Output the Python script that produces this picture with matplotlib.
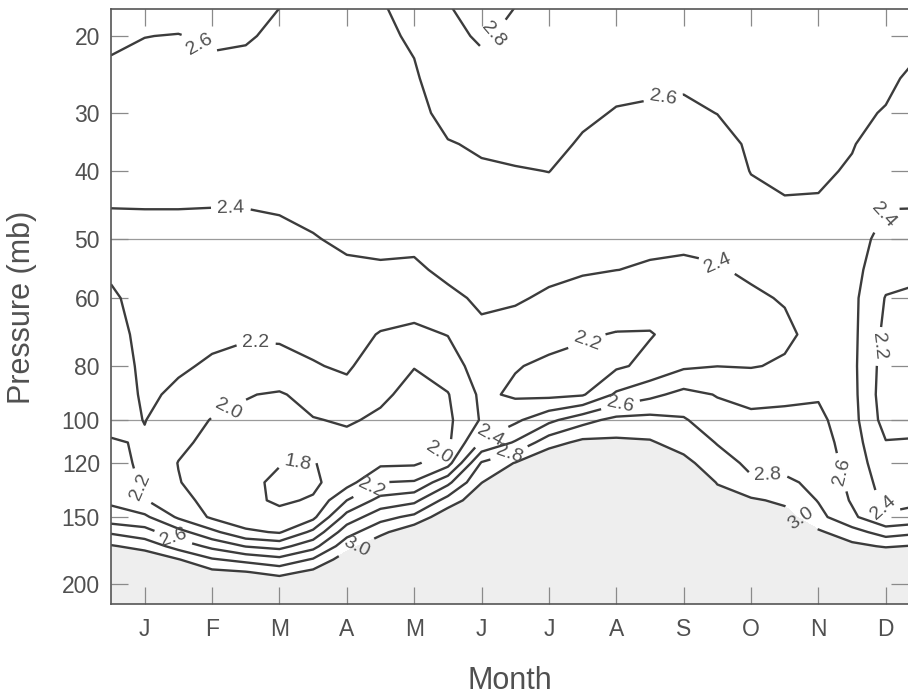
import numpy as np
import matplotlib
matplotlib.use("Agg")
import matplotlib.pyplot as plt

# grid the field was read on: month position (0 = 1 Jan) and pressure (mb)
months = [0.0, 0.5, 1.0, 1.5, 2.0, 2.5, 3.0, 3.5, 4.0, 4.5, 5.0, 5.5, 6.0,
          6.5, 7.0, 7.5, 8.0, 8.5, 9.0, 9.5, 10.0, 10.5, 11.0, 11.5, 12.0]
pressure = [17, 20, 25, 30, 35, 40, 45, 50, 55, 60, 70, 80, 90, 100, 110,
            120, 130, 140, 150, 160, 170, 180, 190, 200, 220]

# mixing ratio, one list per month position, from 17 mb down to 220 mb
ratio_by_month = [
    [2.68, 2.63, 2.56, 2.51, 2.47, 2.44, 2.403, 2.33, 2.24, 2.16, 2.11, 2.08, 2.08,
     2.13, 2.22, 2.27, 2.32, 2.37, 2.47, 2.77, 3.02, 3.25, 3.40, 3.50, 3.60],
    [2.67, 2.602, 2.55, 2.51, 2.47, 2.44, 2.403, 2.36, 2.33, 2.30, 2.27, 2.25, 2.23,
     2.205, 2.18, 2.16, 2.17, 2.21, 2.44, 2.68, 2.93, 3.15, 3.32, 3.45, 3.55],
    [2.66, 2.595, 2.55, 2.51, 2.47, 2.44, 2.403, 2.36, 2.32, 2.28, 2.25, 2.22, 2.17,
     2.10, 2.04, 1.995, 2.01, 2.08, 2.17, 2.47, 2.72, 3.01, 3.20, 3.35, 3.50],
    [2.66, 2.62, 2.56, 2.51, 2.47, 2.44, 2.401, 2.36, 2.31, 2.27, 2.23, 2.18, 2.08,
     1.99, 1.95, 1.92, 1.90, 1.92, 1.97, 2.25, 2.55, 2.82, 3.05, 3.25, 3.40],
    [2.67, 2.61, 2.56, 2.51, 2.47, 2.44, 2.402, 2.36, 2.31, 2.26, 2.215, 2.15, 2.01,
     1.96, 1.91, 1.87, 1.85, 1.85, 1.87, 2.04, 2.39, 2.74, 3.01, 3.22, 3.38],
    [2.602, 2.58, 2.54, 2.50, 2.47, 2.44, 2.41, 2.37, 2.31, 2.26, 2.22, 2.15, 1.98,
     1.92, 1.86, 1.81, 1.76, 1.77, 1.86, 1.98, 2.33, 2.66, 2.93, 3.15, 3.35],
    [2.58, 2.56, 2.53, 2.50, 2.47, 2.45, 2.42, 2.395, 2.34, 2.29, 2.24, 2.19, 2.07,
     1.99, 1.87, 1.79, 1.76, 1.82, 1.95, 2.25, 2.53, 2.82, 3.05, 3.25, 3.40],
    [2.57, 2.55, 2.52, 2.49, 2.47, 2.45, 2.43, 2.415, 2.385, 2.32, 2.26, 2.22, 2.15,
     2.02, 1.95, 1.89, 1.92, 2.20, 2.48, 2.72, 2.93, 3.12, 3.28, 3.40, 3.50],
    [2.59, 2.57, 2.54, 2.51, 2.48, 2.46, 2.44, 2.42, 2.39, 2.29, 2.19, 2.12, 2.03,
     1.97, 1.94, 1.96, 2.20, 2.47, 2.73, 2.95, 3.15, 3.28, 3.38, 3.45, 3.55],
    [2.65, 2.62, 2.58, 2.55, 2.52, 2.49, 2.45, 2.42, 2.385, 2.28, 2.16, 2.005, 1.95,
     1.93, 1.93, 1.97, 2.22, 2.55, 2.85, 3.15, 3.30, 3.40, 3.45, 3.50, 3.55],
    [2.795, 2.76, 2.70, 2.65, 2.59, 2.56, 2.50, 2.45, 2.42, 2.38, 2.205, 2.10, 1.99,
     1.96, 1.96, 2.12, 2.55, 2.88, 3.15, 3.30, 3.40, 3.45, 3.50, 3.52, 3.58],
    [2.86, 2.82, 2.74, 2.68, 2.62, 2.58, 2.53, 2.48, 2.44, 2.415, 2.38, 2.30, 2.24,
     2.22, 2.43, 2.82, 2.995, 3.15, 3.30, 3.38, 3.45, 3.50, 3.52, 3.55, 3.60],
    [2.802, 2.76, 2.72, 2.68, 2.64, 2.59, 2.54, 2.49, 2.45, 2.415, 2.34, 2.21, 2.17,
     2.36, 2.62, 3.01, 3.20, 3.32, 3.40, 3.45, 3.50, 3.52, 3.55, 3.58, 3.62],
    [2.76, 2.74, 2.71, 2.68, 2.65, 2.602, 2.54, 2.49, 2.43, 2.38, 2.25, 2.17, 2.15,
     2.55, 2.92, 3.20, 3.35, 3.42, 3.48, 3.50, 3.52, 3.55, 3.58, 3.60, 3.62],
    [2.74, 2.72, 2.67, 2.63, 2.58, 2.55, 2.50, 2.45, 2.41, 2.36, 2.22, 2.14, 2.18,
     2.73, 3.05, 3.30, 3.42, 3.48, 3.50, 3.52, 3.55, 3.58, 3.60, 3.62, 3.65],
    [2.73, 2.70, 2.64, 2.59, 2.55, 2.51, 2.46, 2.43, 2.401, 2.31, 2.19, 2.17, 2.43,
     2.86, 3.04, 3.25, 3.38, 3.45, 3.50, 3.52, 3.55, 3.58, 3.60, 3.62, 3.65],
    [2.72, 2.68, 2.63, 2.58, 2.54, 2.50, 2.45, 2.42, 2.39, 2.28, 2.19, 2.25, 2.55,
     2.87, 3.02, 3.20, 3.35, 3.42, 3.48, 3.50, 3.52, 3.55, 3.58, 3.60, 3.62],
    [2.71, 2.68, 2.62, 2.575, 2.53, 2.49, 2.45, 2.42, 2.38, 2.31, 2.26, 2.37, 2.66,
     2.82, 2.92, 3.06, 3.20, 3.32, 3.40, 3.45, 3.50, 3.52, 3.55, 3.58, 3.60],
    [2.72, 2.69, 2.64, 2.602, 2.55, 2.51, 2.46, 2.43, 2.39, 2.34, 2.31, 2.398, 2.59,
     2.68, 2.79, 2.88, 2.99, 3.08, 3.20, 3.30, 3.38, 3.42, 3.45, 3.50, 3.55],
    [2.74, 2.72, 2.68, 2.65, 2.62, 2.605, 2.55, 2.50, 2.42, 2.38, 2.35, 2.39, 2.55,
     2.64, 2.70, 2.76, 2.83, 3.03, 3.15, 3.25, 3.32, 3.38, 3.42, 3.47, 3.52],
    [2.75, 2.73, 2.70, 2.67, 2.64, 2.62, 2.59, 2.53, 2.47, 2.41, 2.37, 2.42, 2.56,
     2.65, 2.70, 2.75, 2.83, 2.96, 3.08, 3.20, 3.28, 3.34, 3.40, 3.45, 3.50],
    [2.76, 2.74, 2.71, 2.68, 2.65, 2.63, 2.58, 2.53, 2.49, 2.46, 2.45, 2.50, 2.58,
     2.65, 2.70, 2.73, 2.76, 2.79, 2.86, 3.03, 3.15, 3.22, 3.30, 3.35, 3.42],
    [2.72, 2.70, 2.66, 2.63, 2.61, 2.58, 2.53, 2.49, 2.46, 2.45, 2.45, 2.45, 2.46,
     2.47, 2.49, 2.52, 2.55, 2.58, 2.64, 2.88, 3.05, 3.15, 3.22, 3.30, 3.40],
    [2.69, 2.66, 2.63, 2.59, 2.52, 2.47, 2.405, 2.33, 2.28, 2.19, 2.15, 2.11, 2.09,
     2.12, 2.21, 2.26, 2.31, 2.35, 2.42, 2.71, 2.98, 3.22, 3.38, 3.48, 3.58],
    [2.68, 2.63, 2.56, 2.51, 2.47, 2.44, 2.403, 2.33, 2.24, 2.16, 2.11, 2.08, 2.08,
     2.13, 2.22, 2.27, 2.32, 2.37, 2.47, 2.77, 3.02, 3.25, 3.40, 3.50, 3.60],
]

levels = [1.8, 2.0, 2.2, 2.4, 2.6, 2.8, 3.0]
month_labels = ["J", "F", "M", "A", "M", "J", "J", "A", "S", "O", "N", "D"]
pressure_ticks = [20, 30, 40, 50, 60, 80, 100, 120, 150, 200]

# the printed pressure axis is neither linear nor log: place it through the
# measured heights of its tick marks
axis_p = np.array([1, 20, 30, 40, 50, 60, 80, 100, 120, 150, 200, 2000])
axis_u = np.array([-533, 36, 113, 171, 239, 298, 366, 420, 463, 517, 584, 1120])


def p_forward(p):
    p = np.clip(np.asarray(p, dtype=float), 1e-6, None)
    return np.interp(np.log(p), np.log(axis_p), axis_u)


def p_inverse(u):
    return np.exp(np.interp(np.asarray(u, dtype=float), axis_u, np.log(axis_p)))


# where the inline labels sit (month, mb)
label_spots = [
    (1.26, 21.5), (1.78, 45), (2.15, 72.7), (1.68, 92.3), (2.75, 115),
    (0.46, 132), (0.91, 165.5), (3.86, 133), (3.64, 170.5), (4.92, 118),
    (5.62, 106), (5.91, 115), (5.72, 20.1), (8.19, 27.3), (7.06, 71.8),
    (8.99, 54.2), (7.55, 92.3), (9.75, 124.5), (10.24, 151), (10.97, 123.5),
    (11.41, 45.9), (11.46, 73.7), (11.41, 145.7),
]

plt.rcParams["font.family"] = ["Liberation Sans", "DejaVu Sans"]
ink = "#3c3c3c"
text_grey = "#505050"

fig = plt.figure(figsize=(9.08, 6.96), dpi=100)
ax = fig.add_axes([111 / 908, 92 / 696, 797 / 908, 595 / 696])
ax.set_yscale("function", functions=(p_forward, p_inverse))

X, P = np.meshgrid(months, pressure)
Z = np.array(ratio_by_month).T

ax.contourf(X, P, Z, levels=[3.0, 10.0], colors=["#eeeeee"], zorder=0)
ax.axhline(50, color="#9a9a9a", lw=0.9, zorder=1)
ax.axhline(100, color="#9a9a9a", lw=0.9, zorder=1)
cs = ax.contour(X, P, Z, levels=levels, colors=ink, linewidths=1.7, zorder=2)
cs.set_joinstyle("round")
ax.clabel(cs, levels, inline=True, inline_spacing=6, fmt="%.1f",
          fontsize=14, colors=text_grey, manual=label_spots)

ax.set_xlim(0, 11.83)
ax.set_ylim(217.9, 17.35)

ax.set_xticks(np.arange(12) + 0.5)
ax.set_xticklabels(month_labels)
ax.set_yticks(pressure_ticks)
ax.set_yticklabels([str(p) for p in pressure_ticks])
ax.yaxis.set_minor_locator(matplotlib.ticker.NullLocator())
ax.tick_params(axis="both", which="major", direction="in", length=12.5,
               width=0.9, color="#8a8a8a", top=True, right=True,
               labelsize=16.5, labelcolor=text_grey)
ax.tick_params(axis="x", pad=10)
ax.tick_params(axis="y", pad=8)

for side in ["left", "bottom", "top"]:
    ax.spines[side].set_color("#555555")
    ax.spines[side].set_linewidth(1.2)
ax.spines["right"].set_visible(False)

fig.text(22 / 908, 1 - 307 / 696, "Pressure (mb)", rotation=90, ha="center",
         va="center", fontsize=22, color=text_grey)
fig.text(510 / 908, 1 - 681 / 696, "Month", ha="center", va="center",
         fontsize=22, color=text_grey)

fig.savefig("out.png", dpi=100)
